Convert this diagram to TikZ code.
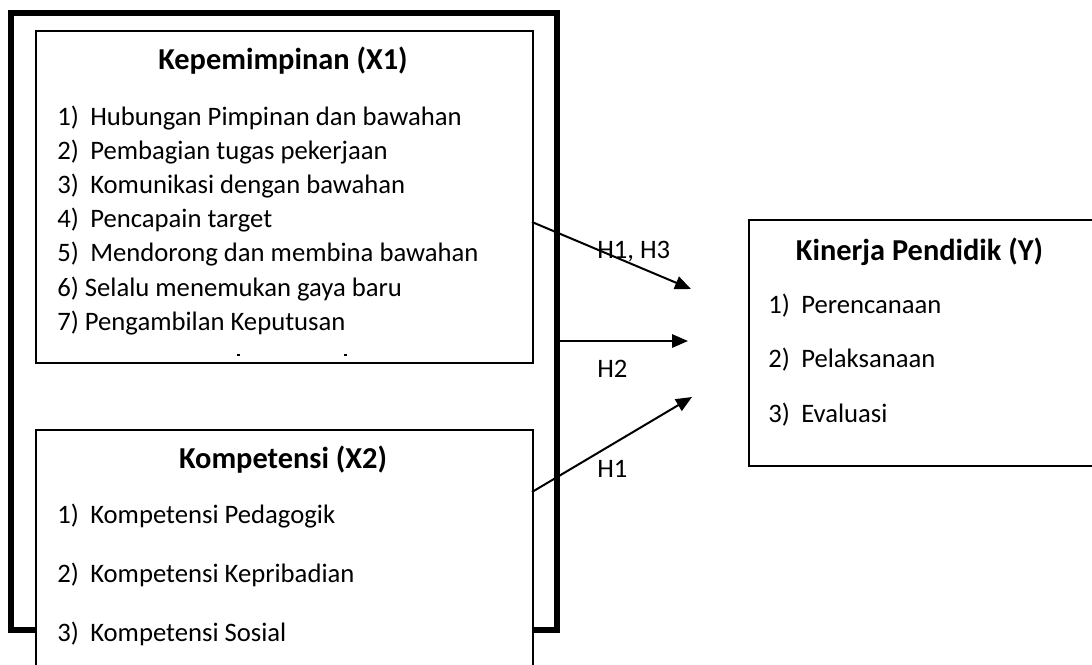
\documentclass[tikz,border=0pt]{standalone}
\usepackage{fontspec}
\setmainfont{Carlito}
\usetikzlibrary{arrows.meta}

\tikzset{
  box/.style={draw, line width=1.5pt, fill=white, anchor=north west, inner sep=0pt},
  frame/.style={line width=4.5pt},
  boxtitle/.style={font=\fontsize{22.8}{27}\selectfont\bfseries, anchor=base, inner sep=0pt},
  item/.style={font=\fontsize{20}{24}\selectfont, anchor=base west, inner sep=0pt},
  hyp/.style={font=\fontsize{20}{24}\selectfont, anchor=base west, inner sep=0pt},
  arr/.style={line width=1.5pt, -{Triangle[length=12pt,width=10pt]}},
}
\newcommand{\num}[1]{\makebox[24.75pt][l]{#1}}

\begin{document}
\begin{tikzpicture}[x=0.75pt,y=-0.75pt]
  \useasboundingbox (0,0) rectangle (1092,664);
  % thick frame round both variables
  \draw[frame] (11,13) rectangle (557,630);

  % Kepemimpinan
  \node[box, minimum width=372.75pt, minimum height=249pt] (x1) at (35,30) {};
  \node[boxtitle] (x1t) at (283,69) {Kepemimpinan (X1)};
  \node[item] (x1a) at (57,125) {\num{1)}Hubungan Pimpinan dan bawahan};
  \node[item] (x1b) at (57,159.2) {\num{2)}Pembagian tugas pekerjaan};
  \node[item] (x1c) at (57,193.4) {\num{3)}Komunikasi dengan bawahan};
  \node[item] (x1d) at (57,227.6) {\num{4)}Pencapain target};
  \node[item] (x1e) at (57,261.8) {\num{5)}Mendorong dan membina bawahan};
  \node[item] (x1f) at (57,296) {6) Selalu menemukan gaya baru};
  \node[item] (x1g) at (57,330.2) {7) Pengambilan Keputusan};
  \fill (237,354) rectangle (240,356);
  \fill (344,354) rectangle (347,356);

  % Kompetensi
  \node[box, minimum width=372.75pt, minimum height=200pt] (x2) at (35,429) {};
  \node[boxtitle] (x2t) at (283,468) {Kompetensi (X2)};
  \node[item] (x2a) at (57,523) {\num{1)}Kompetensi Pedagogik};
  \node[item] (x2b) at (57,582) {\num{2)}Kompetensi Kepribadian};
  \node[item] (x2c) at (57,641) {\num{3)}Kompetensi Sosial};

  % Kinerja
  \node[box, minimum width=270pt, minimum height=184.5pt] (y) at (748,219) {};
  \node[boxtitle] (yt) at (919.5,260) {Kinerja Pendidik (Y)};
  \node[item] (ya) at (768,313) {\num{1)}Perencanaan};
  \node[item] (yb) at (768,367) {\num{2)}Pelaksanaan};
  \node[item] (yc) at (768,422) {\num{3)}Evaluasi};

  % hypotheses
  \coordinate (s1) at (532,222);
  \coordinate (e1) at (691,289);
  \coordinate (s2) at (559,341);
  \coordinate (e2) at (688,341);
  \coordinate (s3) at (532,492);
  \coordinate (e3) at (692,397);
  \draw[arr] (s1) -- (e1);
  \draw[arr] (s2) -- (e2);
  \draw[arr] (s3) -- (e3);
  \node[hyp] (h13) at (597,258) {H1, H3};
  \node[hyp] (h2) at (597,377) {H2};
  \node[hyp] (h1) at (597,477) {H1};
\end{tikzpicture}
\end{document}
